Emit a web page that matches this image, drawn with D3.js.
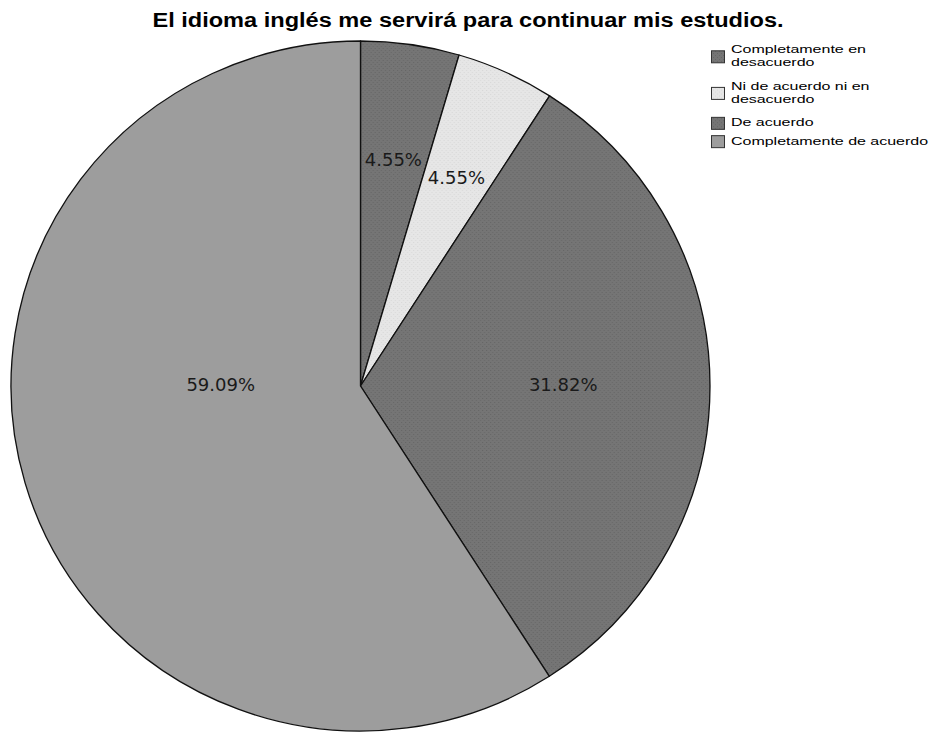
<!DOCTYPE html>
<html>
<head>
<meta charset="utf-8">
<script src="https://cdn.jsdelivr.net/npm/d3@7"></script>
<style>
   body { margin: 0; background: #fff; }
   svg { display: block; }
</style>
</head>
<body>
<svg class="piechart" width="931" height="732"></svg>
<script>
// DATA
var categories = [
   'Completamente en desacuerdo',
   'Ni de acuerdo ni en desacuerdo',
   'De acuerdo',
   'Completamente de acuerdo'
];
var legendLines = [
   ['Completamente en', 'desacuerdo'],
   ['Ni de acuerdo ni en', 'desacuerdo'],
   ['De acuerdo'],
   ['Completamente de acuerdo']
];
var percentages = [4.55, 4.55, 31.82, 59.09];
var title = 'El idioma inglés me servirá para continuar mis estudios.';

var svg = d3.select('svg.piechart');

var layout = {
   cx: 360.5, cy: 386, radius: 345, stretchX: 349.5 / 345,
   labelRadius: [0.66, 0.66, 0.58, 0.40],
   flatLabel: [false, false, true, true],
   titleStretch: 1.15,
   legendStretch: 1.39
};

var fills = ['#757575', '#e6e6e6', '#757575', '#9d9d9d'];
var dots = ['#666666', '#d8d8d8', '#666666', null];

// stipple patterns, like the print-friendly SPSS fills
var defs = svg.append('defs');
fills.forEach(function (c, i) {
   var p = defs.append('pattern')
      .attr('id', 'fill' + i)
      .attr('patternUnits', 'userSpaceOnUse')
      .attr('width', 4).attr('height', 4);
   p.append('rect').attr('width', 4).attr('height', 4).attr('fill', c);
   if (dots[i]) {
      p.append('rect').attr('x', 0).attr('y', 0).attr('width', 1).attr('height', 1).attr('fill', dots[i]);
      p.append('rect').attr('x', 2).attr('y', 2).attr('width', 1).attr('height', 1).attr('fill', dots[i]);
   }
});

// title (SPSS text is a bit wider than Arial, so stretch it)
svg.append('g')
   .attr('transform', 'translate(468,27) scale(' + layout.titleStretch + ',1)')
   .append('text')
   .text(title)
   .attr('text-anchor', 'middle')
   .style('font', 'bold 20.5px "Liberation Sans", Arial, sans-serif')
   .attr('fill', '#000');

var pie = d3.pie().sort(null).value(function (d) { return d; });
var arcs = pie(percentages);

var arc = d3.arc().innerRadius(0).outerRadius(layout.radius);

var g = svg.append('g')
   .attr('transform', 'translate(' + layout.cx + ',' + layout.cy + ')');

g.append('g')
   .attr('transform', 'scale(' + layout.stretchX + ',1)')
   .selectAll('path.slice')
   .data(arcs)
   .enter().append('path')
   .attr('class', 'slice')
   .attr('d', arc)
   .attr('fill', function (d, i) { return 'url(#fill' + i + ')'; })
   .attr('stroke', '#111')
   .attr('stroke-width', 1.3)
   .attr('stroke-linejoin', 'round');

g.selectAll('text.pct')
   .data(arcs)
   .enter().append('text')
   .attr('class', 'pct')
   .attr('transform', function (d, i) {
      var r = layout.radius * layout.labelRadius[i];
      var c = d3.arc().innerRadius(r).outerRadius(r).centroid(d);
      if (layout.flatLabel[i]) c = [Math.sign(c[0]) * r, 0];
      return 'translate(' + c[0] * layout.stretchX + ',' + c[1] + ')';
   })
   .attr('text-anchor', 'middle')
   .attr('dy', '0.3em')
   .style('font', '18px "DejaVu Sans", Verdana, sans-serif')
   .attr('fill', '#1a1a1a')
   .text(function (d) { return d.data.toFixed(2) + '%'; });

// legend, one text block per item (wrapped lines as tspans)
var legend = svg.append('g').attr('class', 'legend')
   .style('font', '11.5px "Liberation Sans", Arial, sans-serif');

var lineH = 13.3, y = 43;
legendLines.forEach(function (lines, i) {
   var h = lines.length * lineH;
   var item = legend.append('g').attr('transform', 'translate(711,' + y + ')');
   item.append('rect')
      .attr('x', 0.5)
      .attr('y', h / 2 - 6 + 0.5)
      .attr('width', 13)
      .attr('height', 12)
      .attr('fill', 'url(#fill' + i + ')')
      .attr('stroke', '#333')
      .attr('stroke-width', 1);
   item.append('text')
      .attr('transform', 'translate(20,10) scale(' + layout.legendStretch + ',1)')
      .attr('fill', '#000')
      .selectAll('tspan')
      .data(lines)
      .enter().append('tspan')
      .attr('x', 0)
      .attr('dy', function (d, j) { return j ? lineH : 0; })
      .text(function (d) { return d; });
   y += h + (lines.length > 1 ? 10 : 5);
});
</script>
</body>
</html>
